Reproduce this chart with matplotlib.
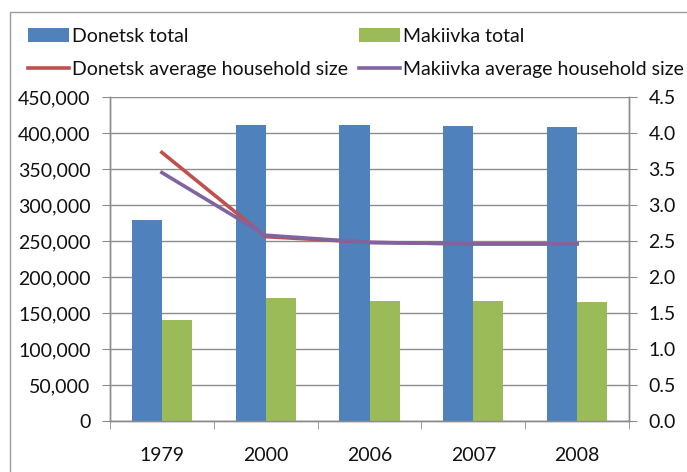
import matplotlib
matplotlib.use("Agg")
import matplotlib.pyplot as plt
import numpy as np
from matplotlib.patches import Rectangle, Patch
from matplotlib.lines import Line2D
from matplotlib.ticker import FuncFormatter, MultipleLocator

years = ["1979", "2000", "2006", "2007", "2008"]
donetsk_total = [279700, 411100, 411000, 409700, 407900]
makiivka_total = [140300, 170800, 167100, 167100, 165700]
donetsk_household = [3.73, 2.56, 2.48, 2.46, 2.46]
makiivka_household = [3.45, 2.58, 2.48, 2.46, 2.46]

BLUE = "#4F81BD"
GREEN = "#9BBB59"
RED = "#C0504D"
PURPLE = "#8064A2"
GRID = "#8C8C8C"
TEXT = "#111111"

plt.rcParams["font.family"] = ["Lato", "DejaVu Sans"]
plt.rcParams["font.size"] = 14

fig = plt.figure(figsize=(6.87, 4.72), dpi=100)
ax = fig.add_axes([110 / 687, 1 - 421 / 472, (629 - 110) / 687, (421 - 97) / 472])
ax2 = ax.twinx()

x = np.arange(len(years))
w = 0.29
ax.bar(x - w / 2, donetsk_total, w, color=BLUE, zorder=3)
ax.bar(x + w / 2, makiivka_total, w, color=GREEN, zorder=3)

ax.set_xlim(-0.5, len(years) - 0.5)
ax.set_ylim(0, 450000)
ax.yaxis.set_major_locator(MultipleLocator(50000))
ax.yaxis.set_major_formatter(FuncFormatter(lambda v, p: f"{int(v):,}"))
ax.grid(axis="y", color=GRID, linewidth=1.0, zorder=0)
ax.set_axisbelow(True)

ax.set_xticks(x)
ax.set_xticklabels(years)
ax.set_xticks(np.arange(-0.5, len(years)), minor=True)
ax.tick_params(axis="x", which="major", length=0, pad=18.5, colors=TEXT)
ax.tick_params(axis="x", which="minor", length=6, color=GRID, direction="out")
ax.tick_params(axis="y", length=6, color=GRID, pad=8, colors=TEXT)

ax2.plot(x, donetsk_household, color=RED, linewidth=2.6, zorder=4)
ax2.plot(x, makiivka_household, color=PURPLE, linewidth=2.6, zorder=5)
ax2.set_ylim(0, 4.5)
ax2.yaxis.set_major_locator(MultipleLocator(0.5))
ax2.yaxis.set_major_formatter(FuncFormatter(lambda v, p: f"{v:.1f}"))
ax2.tick_params(axis="y", length=6, color=GRID, pad=8, colors=TEXT)

for a in (ax, ax2):
    a.spines["top"].set_visible(False)
    for side in ("left", "right", "bottom"):
        a.spines[side].set_color(GRID)
        a.spines[side].set_linewidth(1.0)

# chart frame
fig.add_artist(Rectangle((10 / 687, -0.1), 1.2, 1 - 12 / 472 + 0.1,
                         transform=fig.transFigure, fill=False,
                         edgecolor="#9a9a9a", linewidth=1.0))

handles = [
    Patch(facecolor=BLUE, edgecolor="none"),
    Line2D([], [], color=RED, linewidth=2.6),
    Patch(facecolor=GREEN, edgecolor="none"),
    Line2D([], [], color=PURPLE, linewidth=2.6),
]
labels = ["Donetsk total", "Donetsk average household size",
          "Makiivka total", "Makiivka average household size"]
fig.legend(handles, labels, ncol=2, loc="upper left",
           bbox_to_anchor=(28 / 687, 1 - 28 / 472),
           frameon=False, handlelength=2.1, handleheight=0.7,
           handletextpad=0.15, columnspacing=0.6, labelspacing=0.8,
           borderaxespad=0, borderpad=0, labelcolor=TEXT)

fig.savefig("out.png", dpi=100)
